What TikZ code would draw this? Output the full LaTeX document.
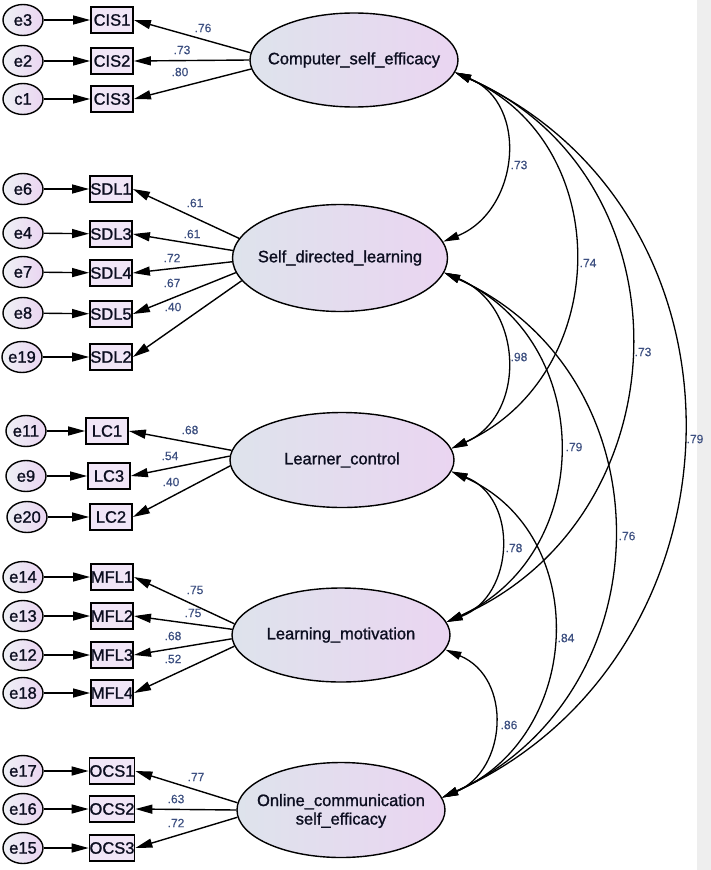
\documentclass[tikz,border=0pt]{standalone}
\usepackage{fontspec}
\setmainfont{Liberation Sans}
\newfontfamily\heavyfam[FakeBold=1.2]{Liberation Sans}
\newfontfamily\numfam[FakeBold=0.4]{Liberation Sans}
\usetikzlibrary{arrows.meta,shapes.geometric}
\definecolor{latL}{HTML}{DEE3EC}
\definecolor{latR}{HTML}{EAD5F1}
\definecolor{boxF}{HTML}{F1E6F7}
\definecolor{numC}{HTML}{3C4F80}
\definecolor{txtC}{HTML}{0C0E20}
\definecolor{barC}{HTML}{EEEEEE}
\newcommand\mybigfont{\heavyfam\fontsize{16.5}{18.5}\selectfont}
\newcommand\mysmallfont{\numfam\fontsize{12}{14}\selectfont}
\begin{document}
\begin{tikzpicture}[x=1pt,y=-1pt,
  lat/.style={ellipse, draw=black, line width=1.4pt, left color=latL, right color=latR, inner sep=0pt},
  lattext/.style={font=\mybigfont, text=txtC, align=center, inner sep=0pt},
  err/.style={ellipse, draw=black, line width=1.4pt, minimum width=40pt, minimum height=31pt, inner sep=0pt, left color=latL!50!white, right color=latR, font=\mybigfont, text=txtC},
  obs/.style={rectangle, draw=black, line width=1.8pt, minimum width=42pt, minimum height=26pt, inner sep=0pt, fill=boxF, font=\mybigfont, text=txtC},
  arr/.style={line width=1.4pt, -{Triangle[length=17pt,width=9pt]}},
  cov/.style={line width=1.3pt, {Triangle[length=16pt,width=8pt]}-{Triangle[length=16pt,width=8pt]}},
  num/.style={font=\mysmallfont, text=numC, inner sep=0pt},
]
\useasboundingbox (0,0) rectangle (711,870);
\fill[white] (0,0) rectangle (711,870);
\fill[barC] (697,0) rectangle (711,870);

% latent variables
\node[lat, minimum width=208pt, minimum height=94pt] (cse) at (354,60) {};
\node[lattext] (cseT) at (cse.center) {Computer\_self\_efficacy};
\node[lat, minimum width=215pt, minimum height=107pt] (sdl) at (340,258) {};
\node[lattext] (sdlT) at (sdl.center) {Self\_directed\_learning};
\node[lat, minimum width=224pt, minimum height=95pt] (lc) at (342,460) {};
\node[lattext] (lcT) at (lc.center) {Learner\_control};
\node[lat, minimum width=218pt, minimum height=94pt] (lm) at (341,635) {};
\node[lattext] (lmT) at (lm.center) {Learning\_motivation};
\node[lat, minimum width=208pt, minimum height=95pt] (ocs) at (341,810) {};
\node[lattext] (ocsT) at (341,811) {Online\_communication\\self\_efficacy};

% Computer self efficacy
\node[obs] (cis1) at (112,20) {CIS1};
\node[obs] (cis2) at (112,61) {CIS2};
\node[obs] (cis3) at (112,99) {CIS3};
\node[err] (e3) at (23,20) {e3};
\node[err] (e2) at (23,61) {e2};
\node[err] (c1) at (23,99) {c1};
\draw[arr] (e3) -- (cis1);
\draw[arr] (e2) -- (cis2);
\draw[arr] (c1) -- (cis3);
\draw[arr] (cse.176) -- (cis1.east);
\draw[arr] (cse.180) -- (cis2.east);
\draw[arr] (cse.185) -- (cis3.east);
\node[num] (l1) at (203,28) {.76};
\node[num] (l2) at (182,50) {.73};
\node[num] (l3) at (180,72) {.80};

% Self directed learning
\node[obs] (sdl1) at (111,189) {SDL1};
\node[obs] (sdl3) at (111,234) {SDL3};
\node[obs] (sdl4) at (111,273) {SDL4};
\node[obs] (sdl5) at (111,314) {SDL5};
\node[obs] (sdl2) at (111,357) {SDL2};
\node[err] (e6) at (23,189) {e6};
\node[err] (e4) at (23,233) {e4};
\node[err] (e7) at (23,272) {e7};
\node[err] (e8) at (23,313) {e8};
\node[err] (e19) at (22,357) {e19};
\draw[arr] (e6) -- (sdl1);
\draw[arr] (e4) -- (sdl3);
\draw[arr] (e7) -- (sdl4);
\draw[arr] (e8) -- (sdl5);
\draw[arr] (e19) -- (sdl2);
\draw[arr] (sdl.169) -- (sdl1.east);
\draw[arr] (sdl.176) -- (sdl3.east);
\draw[arr] (sdl.182) -- (sdl4.east);
\draw[arr] (sdl.188) -- (sdl5.east);
\draw[arr] (sdl.193) -- (sdl2.east);
\node[num] (l4) at (195,203) {.61};
\node[num] (l5) at (192,234) {.61};
\node[num] (l6) at (172,258) {.72};
\node[num] (l7) at (172,283) {.67};
\node[num] (l8) at (173,307) {.40};

% Learner control
\node[obs] (lc1) at (107,431) {LC1};
\node[obs] (lc3) at (109,476) {LC3};
\node[obs] (lc2) at (111,517) {LC2};
\node[err] (e11) at (26,431) {e11};
\node[err] (e9) at (26,476) {e9};
\node[err] (e20) at (27,517) {e20};
\draw[arr] (e11) -- (lc1);
\draw[arr] (e9) -- (lc3);
\draw[arr] (e20) -- (lc2);
\draw[arr] (lc.175) -- (lc1.east);
\draw[arr] (lc.178) -- (lc3.east);
\draw[arr] (lc.183) -- (lc2.east);
\node[num] (l9) at (190,430) {.68};
\node[num] (l10) at (170,456) {.54};
\node[num] (l11) at (171,482) {.40};

% Learning motivation
\node[obs] (mfl1) at (112,577) {MFL1};
\node[obs] (mfl2) at (112,616) {MFL2};
\node[obs] (mfl3) at (112,655) {MFL3};
\node[obs] (mfl4) at (112,693) {MFL4};
\node[err] (e14) at (23,577) {e14};
\node[err] (e13) at (23,616) {e13};
\node[err] (e12) at (23,655) {e12};
\node[err] (e18) at (23,693) {e18};
\draw[arr] (e14) -- (mfl1);
\draw[arr] (e13) -- (mfl2);
\draw[arr] (e12) -- (mfl3);
\draw[arr] (e18) -- (mfl4);
\draw[arr] (lm.174) -- (mfl1.east);
\draw[arr] (lm.177) -- (mfl2.east);
\draw[arr] (lm.182) -- (mfl3.east);
\draw[arr] (lm.186) -- (mfl4.east);
\node[num] (l12) at (195,590) {.75};
\node[num] (l13) at (193,613) {.75};
\node[num] (l14) at (173,636) {.68};
\node[num] (l15) at (173,659) {.52};

% Online communication self efficacy
\node[obs] (ocs1) at (112,771) {OCS1};
\node[obs] (ocs2) at (112,809) {OCS2};
\node[obs] (ocs3) at (112,848) {OCS3};
\node[err] (e17) at (23,771) {e17};
\node[err] (e16) at (23,809) {e16};
\node[err] (e15) at (23,848) {e15};
\draw[arr] (e17) -- (ocs1);
\draw[arr] (e16) -- (ocs2);
\draw[arr] (e15) -- (ocs3);
\draw[arr] (ocs.176) -- (ocs1.east);
\draw[arr] (ocs.180) -- (ocs2.east);
\draw[arr] (ocs.184) -- (ocs3.east);
\node[num] (l16) at (196,777) {.77};
\node[num] (l17) at (176,799) {.63};
\node[num] (l18) at (176,823) {.72};

% covariances
\draw[cov] (cse.-7) .. controls (530,104) and (519,211) .. (sdl.9);
\draw[cov] (cse.-7) .. controls (617,145) and (612,375) .. (lc.6);
\draw[cov] (cse.-7) .. controls (694,177) and (686,517) .. (lm.7);
\draw[cov] (cse.-7) .. controls (767,213) and (754,657) .. (ocs.7);
\draw[cov] (sdl.-8) .. controls (524,306) and (527,415) .. (lc.6);
\draw[cov] (sdl.-8) .. controls (597,341) and (596,554) .. (lm.7);
\draw[cov] (sdl.-8) .. controls (672,376) and (667,695) .. (ocs.7);
\draw[cov] (lc.-6) .. controls (519,498) and (515,596) .. (lm.7);
\draw[cov] (lc.-6) .. controls (592,534) and (584,736) .. (ocs.7);
\draw[cov] (lm.-8) .. controls (513,678) and (507,770) .. (ocs.7);
\node[num] (c1lab) at (519,165) {.73};
\node[num] (c2lab) at (588,263) {.74};
\node[num] (c3lab) at (643,352) {.73};
\node[num] (c4lab) at (695,439) {.79};
\node[num] (c5lab) at (519,357) {.98};
\node[num] (c6lab) at (574,447) {.79};
\node[num] (c7lab) at (627,536) {.76};
\node[num] (c8lab) at (514,548) {.78};
\node[num] (c9lab) at (566,638) {.84};
\node[num] (c10lab) at (509,725) {.86};
\end{tikzpicture}
\end{document}
